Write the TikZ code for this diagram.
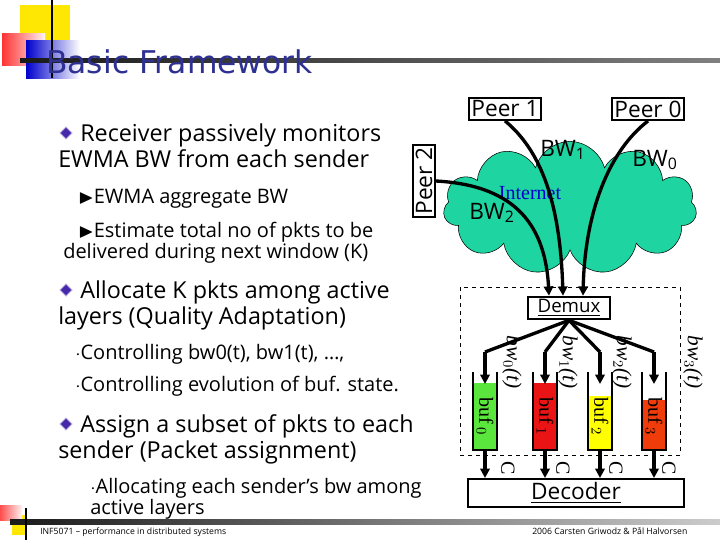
\documentclass[tikz,border=0pt]{standalone}
\usepackage{amssymb}
\usepackage{fontspec}
\setmainfont{Open Sans}
\newfontfamily\titlefont{DejaVu Sans}
\newfontfamily\seriffont{Liberation Serif}
\usetikzlibrary{positioning,shapes.symbols,arrows.meta}
\definecolor{titleblue}{RGB}{46,49,146}
\definecolor{cloudgreen}{RGB}{30,212,160}
\definecolor{bufgreen}{RGB}{90,230,60}
\definecolor{bufred}{RGB}{235,20,20}
\definecolor{bufyellow}{RGB}{255,255,0}
\definecolor{bufor}{RGB}{240,60,10}
\definecolor{diam}{RGB}{70,40,170}
\begin{document}
\begin{tikzpicture}[x=0.75pt,y=-0.75pt,
    txt/.style={anchor=base west,inner sep=0pt,font=\fontsize{17.5}{19}\selectfont},
    sub/.style={anchor=base west,inner sep=0pt,font=\fontsize{15}{17}\selectfont},
    box/.style={draw,line width=1.5pt,fill=white,inner sep=2pt,font=\fontsize{17}{19}\selectfont},
    bwtxt/.style={font=\fontsize{17}{19}\selectfont},
    pipe/.style={line width=2.5pt},
    feed/.style={line width=2.5pt,-{Triangle[length=7pt,width=7pt]}},
    bwlab/.style={rotate=-90,font=\seriffont\itshape\fontsize{16}{18}\selectfont},
    buflab/.style={rotate=-90,font=\seriffont\fontsize{15}{17}\selectfont},
    clab/.style={rotate=-90,font=\seriffont\fontsize{15}{17}\selectfont}]
\useasboundingbox (0,0) rectangle (720,540);
% slide decoration
\fill[yellow!90!orange] (20,5) rectangle (70,40);
\shade[left color=red!80,right color=red!5] (2,33) rectangle (45,65);
\shade[left color=blue!80!black,right color=white] (26,40) rectangle (80,78);
\draw[line width=1pt] (52,0) -- (52,78);
\shade[left color=black!90,right color=black!50] (20,58) rectangle (720,62);
\node[anchor=base west,inner sep=0pt,text=titleblue,font=\titlefont\fontsize{23.5}{26}\selectfont] (title) at (46,73) {Basic Framework};
% footer
\fill[yellow!90!orange] (12,515) rectangle (26,535);
\shade[left color=red!70,right color=red!5] (0,505) rectangle (22,520);
\shade[left color=black!90,right color=black!20] (10,519) rectangle (720,524);
\draw[line width=1pt] (26,508) -- (26,540);
\node[anchor=base west,inner sep=0pt,font=\fontsize{6.5}{8}\selectfont] (course) at (40,534) {INF5071 -- performance in distributed systems};
\node[anchor=base west,inner sep=0pt,font=\fontsize{6.5}{8}\selectfont] (copy) at (532,534) {2006 Carsten Griwodz \& P\aa l Halvorsen};
% left text
\foreach \y in {133,290,424}
  \fill[diam,draw=diam!40,line width=0.6pt] (66,\y-6) -- (72,\y) -- (66,\y+6) -- (60,\y) -- cycle;
\node[txt] (r1) at (80,141) {Receiver passively monitors};
\node[txt] (r2) at (58,167) {EWMA BW from each sender};
\node[sub] (e1) at (78,203) {$\blacktriangleright$EWMA aggregate BW};
\node[sub] (e2) at (78,237) {$\blacktriangleright$Estimate total no of pkts to be};
\node[sub] (e3) at (63,258) {delivered during next window (K)};
\node[txt] (a1) at (80,298) {Allocate K pkts among active};
\node[txt] (a2) at (58,324) {layers (Quality Adaptation)};
\node[sub] (c1) at (75,359) {$\cdot$Controlling bw0(t), bw1(t), \dots,};
\node[sub] (c2) at (75,391) {$\cdot$Controlling evolution of buf. state.};
\node[txt] (s1) at (80,432) {Assign a subset of pkts to each};
\node[txt] (s2) at (58,458) {sender (Packet assignment)};
\node[sub] (l1) at (90,493) {$\cdot$Allocating each sender's bw among};
\node[sub] (l2) at (90,514) {active layers};
% network
\node[cloud,cloud puffs=11,aspect=1.9,draw,fill=cloudgreen,minimum height=100,minimum width=190] (net) at (570,208) {};
\node[text=blue!80!black,font=\seriffont\fontsize{15}{17}\selectfont] (inet) at (530,193) {Internet};
\node[box] (peer1) at (505,109) {Peer 1};
\node[box] (peer0) at (648,109) {Peer 0};
\node[box,rotate=90] (peer2) at (424,181) {Peer 2};
\node[bwtxt] (bw1) at (563,150) {BW\textsubscript{1}};
\node[bwtxt] (bw0) at (655,160) {BW\textsubscript{0}};
\node[bwtxt] (bw2) at (492,213) {BW\textsubscript{2}};
\draw[dashed] (460,287) rectangle (680,455);
\node[box,font=\fontsize{14}{16}\selectfont,minimum width=62] (demux) at (569,308) {\underline{Demux}};
\draw[feed] (peer1.south) .. controls (540,150) and (560,200) .. (demux.north -| 563,0);
\draw[feed] (peer0.south) .. controls (610,150) and (585,210) .. (demux.north -| 583,0);
\draw[feed] (peer2.south) .. controls (510,185) and (545,220) .. (demux.north -| 549,0);
% buffers
\foreach \x/\c/\t/\i in {485/bufgreen/383/0,545/bufred/383/1,600/bufyellow/396/2,654/bufor/400/3}{
  \fill[\c] (\x-12,\t) rectangle (\x+12,450);
  \draw[line width=1.5pt] (\x-12,372) -- (\x-12,450) -- (\x+12,450) -- (\x+12,372);
  \node[buflab] (buf\i) at (\x,416) {buf\,$_{\i}$};
  \coordinate (top\i) at (\x,352);
  \coordinate (bot\i) at (\x,450);
  \draw[pipe] (demux.south) -- (top\i);
  \draw[feed] (top\i) -- (\x,384);
}
\node[box,font=\fontsize{17}{19}\selectfont,minimum width=162,minimum height=21] (dec) at (576,493) {\underline{Decoder}};
\foreach \i in {0,...,3}
  \draw[feed] (bot\i) -- (bot\i |- dec.north);
\foreach \x/\i in {512/0,568/1,622/2,693/3}
  \node[bwlab] (bwl\i) at (\x,362) {bw$_{\i}$(t)};
\foreach \x/\i in {508/0,563/1,616/2,669/3}
  \node[clab] (cap\i) at (\x,468) {C};
\end{tikzpicture}
\end{document}
